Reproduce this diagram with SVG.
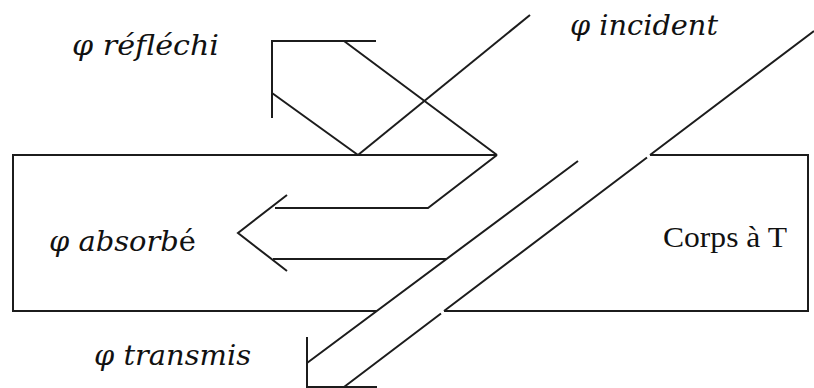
<svg xmlns="http://www.w3.org/2000/svg" width="814" height="388" viewBox="0 0 814 388">
<style>
.ln{fill:none;stroke:#1c1c1c;stroke-width:2;stroke-linecap:butt;stroke-linejoin:miter}
.lab{font-family:"DejaVu Serif","Liberation Serif",serif;font-style:italic;font-size:27px;fill:#111}
.up{font-style:normal}
.body{font-family:"Liberation Serif","Times New Roman",serif;font-size:29px;fill:#111}
</style>
<rect width="814" height="388" fill="#fff"/>
<g id="body">
<path class="ln" d="M497,155 H13 V311 H377 M444,311 H808 V155 H650"/>
<text class="body" x="663" y="247" textLength="124" lengthAdjust="spacingAndGlyphs">Corps à T</text>
</g>
<g id="connectors">
<g id="reflechi">
<path class="ln" d="M376,41 H272 V118 M272,93 L358,155 M344,41 L497,155"/>
</g>
<g id="incident">
<path class="ln" d="M358,155 L530,15"/>
</g>
<g id="absorbe">
<path class="ln" d="M497,155 L428,208 H275 M287,195 L238,233 L287,271 M273,259 H446"/>
</g>
<g id="transmis">
<path class="ln" d="M578,161 L307,363 M307,337 V388 M307,387 H377 M814,31 L650,155 M647,157.5 L444,311 M441,313.5 L344,387"/>
</g>
</g>
<g id="labels">
<text id="lbl-reflechi" class="lab" x="72" y="55" textLength="147" lengthAdjust="spacingAndGlyphs">φ réfléchi</text>
<text id="lbl-incident" class="lab" x="570" y="35" textLength="148" lengthAdjust="spacingAndGlyphs">φ incident</text>
<text id="lbl-absorbe" class="lab" x="49" y="251" textLength="147" lengthAdjust="spacingAndGlyphs">φ absorb<tspan class="up">é</tspan></text>
<text id="lbl-transmis" class="lab" x="94" y="365" textLength="157" lengthAdjust="spacingAndGlyphs">φ transmis</text>
</g>
</svg>
